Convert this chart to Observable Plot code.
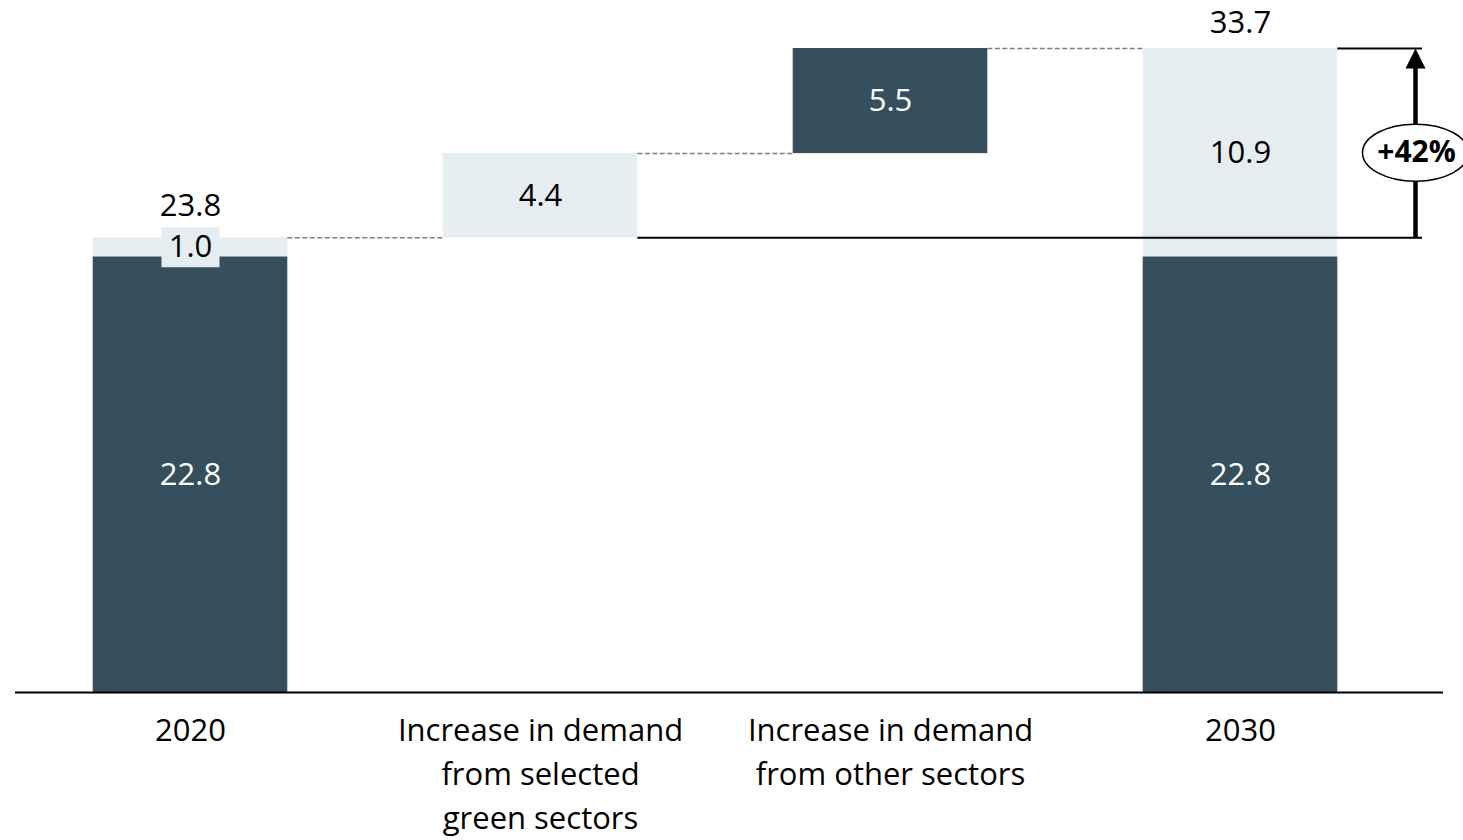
<!DOCTYPE html>
<html><head><meta charset="utf-8">
<script src="https://cdn.jsdelivr.net/npm/d3@7"></script>
<script src="https://cdn.jsdelivr.net/npm/@observablehq/plot@0.6"></script>
<style>html,body{margin:0;padding:0;background:#fff;} svg{display:block}</style>
</head><body><div id="chart"></div>
<script>
// ---- data ----
const categories = ["2020", "Increase in demand\nfrom selected\ngreen sectors", "Increase in demand\nfrom other sectors", "2030"];
const base2020 = 22.8;
const other2020 = 1.0;
const increases = [4.4, 5.5];
const base2030 = 22.8;
const other2030 = 10.9;
const totals = [23.8, 33.7];
const growthLabel = "+42%";

// ---- style ----
const DARK = "#35505C", LIGHT = "#E5EDF0";
const HALF = 0.278;          // half bar width in category units
const annotX = 3.5;          // position of growth arrow
const lineEndX = 3.52;       // end of reference lines
const FONT = "Open Sans";

// ---- build segments ----
const segs = [
  {i: 0, y1: 0, y2: base2020, v: base2020, fill: DARK},
  {i: 0, y1: base2020, y2: base2020 + other2020, v: other2020, fill: LIGHT}
];
let run = base2020 + other2020;
const levels = [run];
increases.forEach((v, k) => {
  segs.push({i: k + 1, y1: run, y2: run + v, v, fill: k === 0 ? LIGHT : DARK});
  run += v;
  levels.push(run);
});
segs.push({i: 3, y1: 0, y2: base2030, v: base2030, fill: DARK});
segs.push({i: 3, y1: base2030, y2: base2030 + other2030, v: other2030, fill: LIGHT});

const connectors = levels.map((y, k) => ({from: k, to: k + 1, y}));

// custom symbols
const boxSymbol = {draw(ctx) { ctx.moveTo(-29, -20); ctx.lineTo(29, -20); ctx.lineTo(29, 20); ctx.lineTo(-29, 20); ctx.closePath(); }};
const triSymbol = {draw(ctx) { ctx.moveTo(0, 0); ctx.lineTo(10, 20); ctx.lineTo(-10, 20); ctx.closePath(); }};
const ellipseSymbol = {draw(ctx) {
  const rx = 53, ry = 28.5, k = 0.5523;
  ctx.moveTo(rx, 0);
  ctx.bezierCurveTo(rx, ry * k, rx * k, ry, 0, ry);
  ctx.bezierCurveTo(-rx * k, ry, -rx, ry * k, -rx, 0);
  ctx.bezierCurveTo(-rx, -ry * k, -rx * k, -ry, 0, -ry);
  ctx.bezierCurveTo(rx * k, -ry, rx, -ry * k, rx, 0);
  ctx.closePath();
}};

const smallSeg = segs[1];

const chart = Plot.plot({
  width: 1463,
  height: 840,
  marginTop: 48,
  marginBottom: 148,
  marginLeft: 15,
  marginRight: 20,
  x: {type: "linear", domain: [-0.5, 3.58], axis: null},
  y: {domain: [0, totals[1]], axis: null},
  style: {fontFamily: FONT, background: "white"},
  marks: [
    Plot.rect(segs, {x1: d => d.i - HALF, x2: d => d.i + HALF, y1: "y1", y2: "y2", fill: "fill"}),
    Plot.ruleY(connectors, {x1: d => d.from + HALF, x2: d => d.to - HALF, y: "y", stroke: "#7f7f7f", strokeWidth: 1.5, strokeDasharray: "5,2.5"}),
    Plot.ruleY([levels[0]], {x1: 1 + HALF, x2: lineEndX, stroke: "black", strokeWidth: 2}),
    Plot.ruleY([totals[1]], {x1: 3 + HALF, x2: lineEndX, stroke: "black", strokeWidth: 2}),
    Plot.ruleY([0], {stroke: "black", strokeWidth: 2}),
    Plot.ruleX([annotX], {y1: levels[0], y2: totals[1] - 0.6, stroke: "black", strokeWidth: 4.5}),
    Plot.dot([{x: annotX, y: totals[1]}], {x: "x", y: "y", symbol: triSymbol, fill: "black", stroke: "none"}),
    Plot.dot([{x: annotX, y: base2030 + other2030 / 2}], {x: "x", y: "y", symbol: ellipseSymbol, fill: "white", stroke: "black", strokeWidth: 1.5}),
    Plot.text([{x: annotX, y: base2030 + other2030 / 2}], {x: "x", y: "y", text: () => growthLabel, fontSize: 30, fontWeight: "bold", fill: "black", dx: 1}),
    Plot.dot([smallSeg], {x: d => d.i, y: d => (d.y1 + d.y2) / 2, symbol: boxSymbol, fill: LIGHT, stroke: "none"}),
    Plot.text(segs, {x: d => d.i, y: d => (d.y1 + d.y2) / 2, text: d => d.v.toFixed(1), fill: d => d.fill === DARK ? "white" : "black", fontSize: 31}),
    Plot.text([totals[0]], {x: 0, y: d => d, text: d => d.toFixed(1), fontSize: 31, fill: "black", dy: -32}),
    Plot.text([totals[1]], {x: 3, y: d => d, text: d => d.toFixed(1), fontSize: 31, fill: "black", dy: -25}),
    Plot.text(categories, {x: (d, i) => i, y: 0, text: d => d, lineAnchor: "top", dy: 17, fontSize: 31, lineHeight: 1.42, fill: "black"})
  ]
});
document.getElementById("chart").appendChild(chart);
</script>
</body></html>
